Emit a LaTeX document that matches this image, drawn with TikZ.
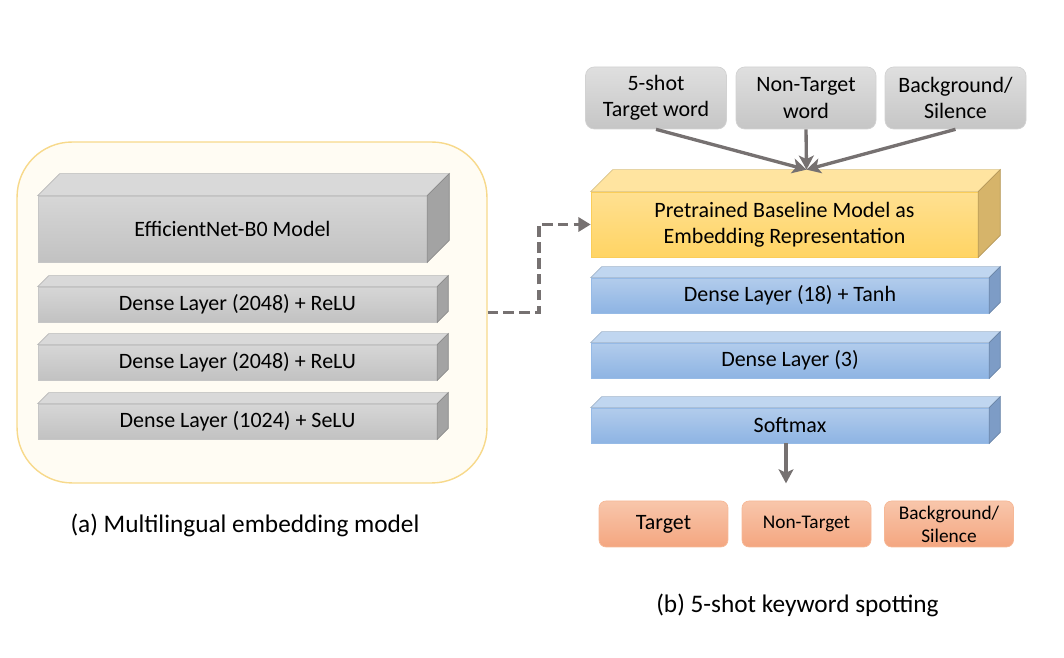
\documentclass[tikz,border=0pt]{standalone}
\usepackage{fontspec}
\setmainfont{Carlito}
\usetikzlibrary{calc,arrows.meta}

\definecolor{framefill}{HTML}{FFFCF3}
\definecolor{frameline}{HTML}{F7D98B}
\definecolor{arrowgray}{HTML}{767171}
\definecolor{graytop}{HTML}{D9D9D9}
\definecolor{grayside}{HTML}{A3A3A3}
\definecolor{goldtop}{HTML}{FFE4A0}
\definecolor{goldside}{HTML}{D6B46A}
\definecolor{bluetop}{HTML}{C0D6F0}
\definecolor{blueside}{HTML}{7D9CC6}

% top and side faces of a slab: node, depth, top colour, side colour
\newcommand{\slabfaces}[4]{%
  \filldraw[fill=#3, draw=#3!85!black, line width=0.4pt]
    (#1.north west) -- ++(#2,#2) -- ($(#1.north east)+(#2,#2)$) -- (#1.north east) -- cycle;
  \filldraw[fill=#4, draw=#4!85!black, line width=0.4pt]
    (#1.north east) -- ++(#2,#2) -- ($(#1.south east)+(#2,#2)$) -- (#1.south east) -- cycle;
}

\tikzset{
  graylayer/.style={draw=gray!45, line width=0.4pt, top color=gray!32, bottom color=gray!48,
    minimum width=7.98cm, minimum height=0.7cm, inner sep=0pt, font=\fontsize{12.5}{15}\selectfont},
  bluelayer/.style={draw={rgb,255:red,150;green,186;blue,230}, line width=0.4pt, top color={rgb,255:red,178;green,204;blue,236},
    bottom color={rgb,255:red,142;green,180;blue,227},
    minimum width=7.96cm, minimum height=0.7cm, inner sep=0pt, font=\fontsize{12.5}{15}\selectfont},
  wordbox/.style={draw=gray!35, line width=0.4pt, rounded corners=5pt, top color=gray!25, bottom color=gray!45,
    minimum width=2.82cm, minimum height=1.24cm, inner sep=0pt, align=center,
    font=\fontsize{12.5}{15}\selectfont},
  classbox/.style={draw={rgb,255:red,246;green,184;blue,150}, line width=0.4pt, rounded corners=4pt,
    top color={rgb,255:red,248;green,198;blue,171}, bottom color={rgb,255:red,244;green,166;blue,128},
    minimum width=2.58cm, minimum height=0.92cm, inner sep=0pt, align=center},
  flow/.style={draw=arrowgray, line width=1.9pt, -{Stealth[length=8pt,width=8.5pt,inset=2pt]}},
  caption/.style={font=\fontsize{14.4}{17}\selectfont}
}

\begin{document}
\begin{tikzpicture}[x=0.02cm,y=0.02cm]
\useasboundingbox (0,0) rectangle (1064,658);

% (a) embedding model
\node [draw=frameline,
	fill=framefill,
	line width=0.8pt,
	rounded corners=1.1cm,
	minimum width=9.4cm,
	minimum height=6.82cm] (frame) at (252,345.5){};

\node [graylayer,
	minimum width=7.78cm,
	minimum height=1.32cm] (effnet) at (232.5,429){EfficientNet-B0 Model};
\slabfaces{effnet}{22}{graytop}{grayside}

\node [graylayer] (denseA) at (237.5,353.5){Dense Layer (2048) + ReLU};
\node [graylayer] (denseB) at (237.5,295.5){Dense Layer (2048) + ReLU};
\node [graylayer] (denseC) at (237.5,236.5){Dense Layer (1024) + SeLU};
\foreach \n in {denseA,denseB,denseC}{
  \slabfaces{\n}{11}{graytop}{grayside}
}

\node [caption] (capA) at (245,133){(a) Multilingual embedding model};

% (b) few-shot keyword spotting
\node [wordbox] (shot) at (656,560){5-shot\\Target word};
\node [wordbox, minimum width=2.8cm] (nontgtword) at (806,560){Non-Target\\word};
\node [wordbox] (bgword) at (955.5,560){Background/\\Silence};

\node [draw={rgb,255:red,250;green,205;blue,90},
	line width=0.4pt,
	top color={rgb,255:red,255;green,224;blue,145},
	bottom color={rgb,255:red,255;green,212;blue,100},
	minimum width=7.74cm,
	minimum height=1.3cm,
	align=center,
	font=\fontsize{12.5}{15}\selectfont] (pretrained) at (784.5,433.5){Pretrained Baseline Model as\\Embedding Representation};
\slabfaces{pretrained}{22}{goldtop}{goldside}

\node [bluelayer] (tanh) at (790,362.5){Dense Layer (18) + Tanh};
\node [bluelayer] (densethree) at (790,297.5){Dense Layer (3)};
\node [bluelayer] (softmax) at (790,232.5){Softmax};
\foreach \n in {tanh,densethree,softmax}{
  \slabfaces{\n}{11}{bluetop}{blueside}
}

\node [classbox, font=\fontsize{12.5}{15}\selectfont] (target) at (663.5,134){Target};
\node [classbox, font=\fontsize{11}{13}\selectfont] (nontarget) at (806.5,134){Non-Target};
\node [classbox, font=\fontsize{11}{13}\selectfont] (background) at (949,134){Background/\\Silence};

\node [caption] (capB) at (797.5,53){(b) 5-shot keyword spotting};

% connectors
\coordinate (hub) at ($(pretrained.north)+(22,22)$);
\draw [flow] (shot.south) -- (hub);
\draw [flow] (nontgtword.south) -- (hub);
\draw [flow] (bgword.south) -- (hub);

\coordinate (softend) at ($(softmax.south)+(-4,-40)$);
\draw [flow] ($(softmax.south)+(-4,0)$) -- (softend);

\draw [draw=arrowgray,
	line width=2.2pt,
	dash pattern=on 6pt off 3pt,
	-{Triangle[length=7pt,width=8pt]}] (frame.east) -- ++(51,0) |- (pretrained.west);

\end{tikzpicture}
\end{document}
